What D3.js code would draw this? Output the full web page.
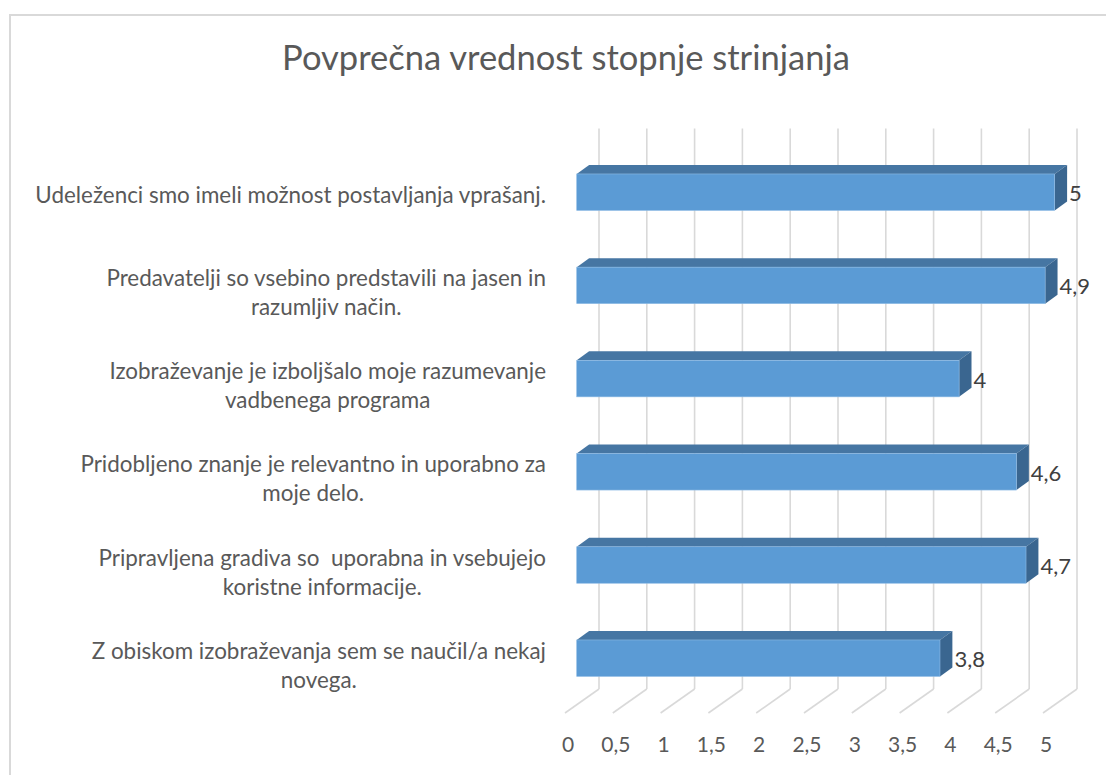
<!DOCTYPE html>
<html>
<head>
<meta charset="utf-8">
<script src="https://cdn.jsdelivr.net/npm/d3@7/dist/d3.min.js"></script>
<style>
  html, body { margin: 0; padding: 0; background: #fff; }
  svg { display: block; }
  text { font-family: Lato, "Open Sans", sans-serif; }
</style>
</head>
<body>
<svg id="chart" width="1106" height="775"></svg>
<script>
// ---- data ----
const categories = [
  "Udeleženci smo imeli možnost postavljanja vprašanj.",
  "Predavatelji so vsebino predstavili na jasen in razumljiv način.",
  "Izobraževanje je izboljšalo moje razumevanje vadbenega programa",
  "Pridobljeno znanje je relevantno in uporabno za moje delo.",
  "Pripravljena gradiva so  uporabna in vsebujejo koristne informacije.",
  "Z obiskom izobraževanja sem se naučil/a nekaj novega."
];
const categoryLines = [
  ["Udeleženci smo imeli možnost postavljanja vprašanj."],
  ["Predavatelji so vsebino predstavili na jasen in", "razumljiv način."],
  ["Izobraževanje je izboljšalo moje razumevanje", "vadbenega programa"],
  ["Pridobljeno znanje je relevantno in uporabno za", "moje delo."],
  ["Pripravljena gradiva so  uporabna in vsebujejo", "koristne informacije."],
  ["Z obiskom izobraževanja sem se naučil/a nekaj", "novega."]
];
const values = [5, 4.9, 4, 4.6, 4.7, 3.8];
const valueLabels = ["5", "4,9", "4", "4,6", "4,7", "3,8"];
const ticks = [0, 0.5, 1, 1.5, 2, 2.5, 3, 3.5, 4, 4.5, 5];
const tickLabels = ["0", "0,5", "1", "1,5", "2", "2,5", "3", "3,5", "4", "4,5", "5"];
const title = "Povprečna vrednost stopnje strinjanja";

// ---- layout ----
const svg = d3.select("#chart");
const textColor = "#595959";

// chart area border
svg.append("rect")
  .attr("x", 10).attr("y", 15)
  .attr("width", 1200).attr("height", 900)
  .attr("fill", "#fff")
  .attr("stroke", "#d9d9d9").attr("stroke-width", 2);

// helper: fit a font size so that text reaches a target width
function fitSize(str, target, base) {
  const t = svg.append("text").attr("font-size", base).text(str);
  const w = t.node().getComputedTextLength();
  t.remove();
  return base * target / w;
}

// title
const titleSize = fitSize(title, 568, 30);
svg.append("text")
  .attr("x", 566).attr("y", 70)
  .attr("text-anchor", "middle")
  .attr("font-size", titleSize)
  .attr("fill", textColor)
  .text(title);

// scales
const xBack = d3.scaleLinear().domain([0, 5]).range([599, 1077]);   // back wall
const floorDX = -34, floorDY = 24;                                   // floor depth
const barOffset = -22.3;                                             // bar front plane vs back wall
const xFront = v => xBack(v) + barOffset;
const depthDX = 12.4, depthDY = -9;                                  // bar depth
const wallTop = 128.5, wallBottom = 689;
const barH = 36.5;

const y = d3.scalePoint().domain(categories).range([192.2, 658.2]);

// gridlines on back wall + floor
const grid = svg.append("g").attr("stroke", "#d9d9d9").attr("stroke-width", 1.6).attr("fill", "none");
grid.selectAll("line.wall").data(ticks).join("line")
  .attr("class", "wall")
  .attr("x1", d => xBack(d)).attr("x2", d => xBack(d))
  .attr("y1", wallTop).attr("y2", wallBottom);
grid.selectAll("line.floor").data(ticks).join("line")
  .attr("class", "floor")
  .attr("x1", d => xBack(d)).attr("y1", wallBottom)
  .attr("x2", d => xBack(d) + floorDX).attr("y2", wallBottom + floorDY);

// bars
const bars = svg.append("g");
categories.forEach((c, i) => {
  const v = values[i];
  const x0 = xFront(0), x1 = xFront(v);
  const yt = y(c) - barH / 2, yb = y(c) + barH / 2;
  const g = bars.append("g");
  // top face
  g.append("path")
    .attr("d", `M${x0},${yt}L${x1},${yt}L${x1 + depthDX},${yt + depthDY}L${x0 + depthDX},${yt + depthDY}Z`)
    .attr("fill", "#4676a3");
  // side face
  g.append("path")
    .attr("d", `M${x1},${yt}L${x1 + depthDX},${yt + depthDY}L${x1 + depthDX},${yb + depthDY}L${x1},${yb}Z`)
    .attr("fill", "#3a6690");
  // front face
  g.append("rect")
    .attr("x", x0).attr("y", yt)
    .attr("width", x1 - x0).attr("height", barH)
    .attr("fill", "#5b9bd5")
    .attr("stroke", "#8fbbe4").attr("stroke-width", 0.6);
  // value label
  g.append("text")
    .attr("x", x1 + depthDX + 2).attr("y", y(c) + 9)
    .attr("font-size", 22)
    .attr("fill", "#404040")
    .text(valueLabels[i]);
});

// category labels
const catSize = fitSize(categoryLines[0][0], 511, 20);
const lineH = 29;
const labelRight = 546;
categoryLines.forEach((lines, i) => {
  const widths = lines.map(l => {
    const t = svg.append("text").attr("font-size", catSize).attr("xml:space", "preserve").text(l);
    const w = t.node().getComputedTextLength(); t.remove(); return w;
  });
  const maxW = d3.max(widths);
  const cx = labelRight - maxW / 2;
  const cy = y(categories[i]) + (lines.length > 1 ? 7 : 3);
  const startY = cy - (lines.length - 1) * lineH / 2;
  lines.forEach((l, k) => {
    svg.append("text")
      .attr("x", cx).attr("y", startY + k * lineH + catSize * 0.36)
      .attr("text-anchor", "middle")
      .attr("font-size", catSize)
      .attr("fill", textColor)
      .attr("xml:space", "preserve")
      .text(l);
  });
});

// tick labels
svg.append("g").selectAll("text").data(ticks).join("text")
  .attr("x", d => xBack(d) + floorDX + 3)
  .attr("y", 752)
  .attr("text-anchor", "middle")
  .attr("font-size", 21)
  .attr("fill", textColor)
  .text((d, i) => tickLabels[i]);
</script>
</body>
</html>
